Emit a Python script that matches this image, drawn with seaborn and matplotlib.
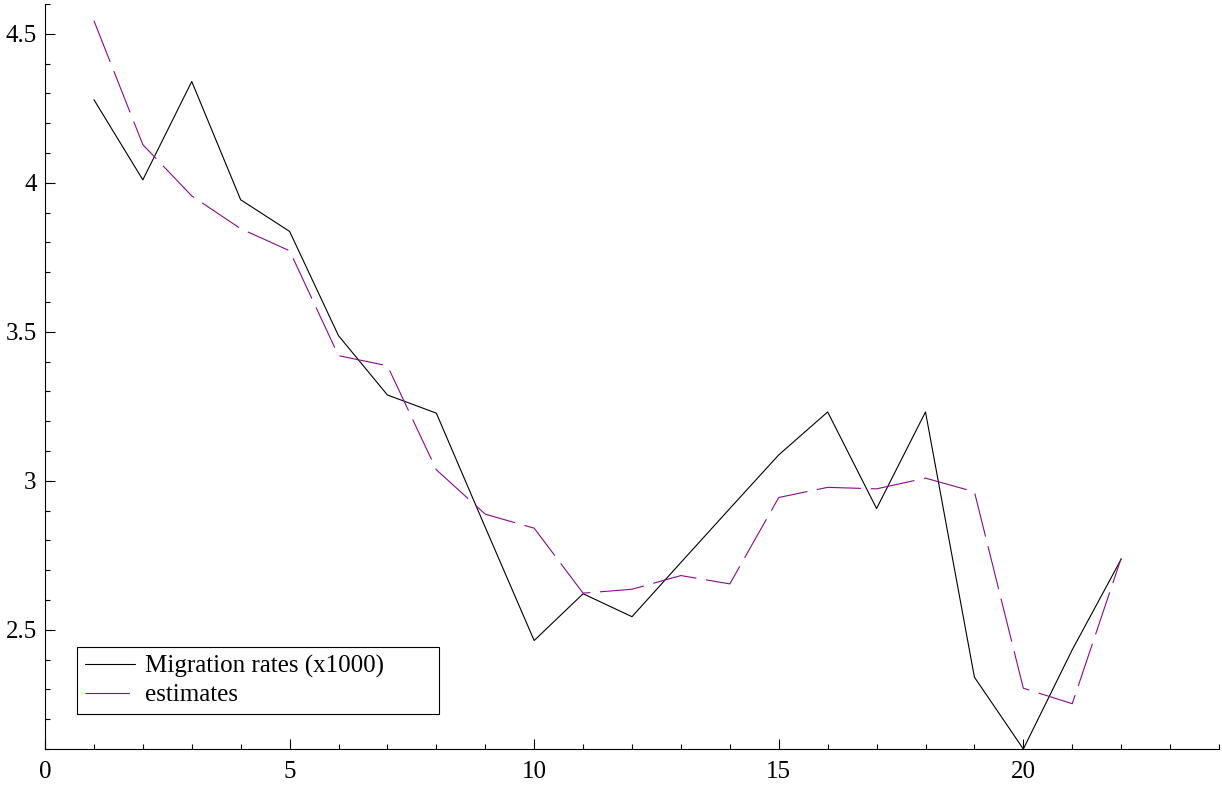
import matplotlib
matplotlib.use("Agg")
import matplotlib.pyplot as plt
import seaborn as sns
import pandas as pd
from matplotlib.ticker import MultipleLocator

# Observation index
period = list(range(1, 23))

# Observed migration rates (per 1000)
migration = [4.279, 4.010, 4.340, 3.943, 3.837, 3.487, 3.288, 3.227, 2.844, 2.464,
             2.621, 2.544, 2.726, 2.907, 3.087, 3.231, 2.907, 3.231, 2.341, 2.100,
             2.433, 2.737]

# Fitted estimates
estimates = [4.544, 4.128, 3.956, 3.846, 3.772, 3.420, 3.386, 3.037, 2.888, 2.841,
             2.623, 2.636, 2.682, 2.654, 2.944, 2.978, 2.973, 3.009, 2.963, 2.304,
             2.252, 2.740]

series_labels = ["Migration rates (x1000)", "estimates"]

sns.set_style("ticks")
plt.rcParams["font.family"] = ["Liberation Serif", "DejaVu Serif"]
plt.rcParams["lines.scale_dashes"] = False
plt.rcParams["text.color"] = "black"
plt.rcParams["xtick.color"] = "black"
plt.rcParams["ytick.color"] = "black"
plt.rcParams["xtick.labelcolor"] = "black"
plt.rcParams["ytick.labelcolor"] = "black"

fig = plt.figure(figsize=(12.22, 7.87), dpi=100)
ax = fig.add_axes([45 / 1222, 38 / 787, 1174 / 1222, 745 / 787])

df = pd.DataFrame({"t": period, "obs": migration, "fit": estimates})

sns.lineplot(data=df, x="t", y="obs", ax=ax, color="black", linewidth=0.8,
             label=series_labels[0], errorbar=None, sort=False)
sns.lineplot(data=df, x="t", y="fit", ax=ax, color="#8b0a8b", linewidth=0.8,
             linestyle=(0, (32, 7)), label=series_labels[1], errorbar=None, sort=False)

ax.set_xlim(0, 24)
ax.set_ylim(2.1, 4.6)
ax.set_xlabel("")
ax.set_ylabel("")

ax.xaxis.set_major_locator(MultipleLocator(5))
ax.xaxis.set_minor_locator(MultipleLocator(1))
ax.yaxis.set_major_locator(MultipleLocator(0.5))
ax.yaxis.set_minor_locator(MultipleLocator(0.1))
ax.yaxis.set_major_formatter(matplotlib.ticker.FuncFormatter(lambda v, p: f"{v:g}"))

ax.tick_params(axis="both", which="major", direction="in", length=7.5, width=0.8,
               labelsize=18, color="black", labelcolor="black")
ax.tick_params(axis="both", which="minor", direction="in", length=3.8, width=0.8,
               color="black")
ax.tick_params(axis="x", which="major", pad=9)
ax.tick_params(axis="y", which="major", pad=6)

for side in ("top", "right"):
    ax.spines[side].set_visible(False)
for side in ("left", "bottom"):
    ax.spines[side].set_color("black")
    ax.spines[side].set_linewidth(0.8)

leg = ax.legend(loc="lower left", bbox_to_anchor=(0.0273, 0.047, 0.3083, 0.1),
                mode="expand", borderaxespad=0, fontsize=18, fancybox=False,
                frameon=True, edgecolor="black", framealpha=1,
                handlelength=2.0, handletextpad=0.4, labelspacing=0.25,
                borderpad=0.3)
leg.get_frame().set_linewidth(0.8)
for txt in leg.get_texts():
    txt.set_color("black")

fig.savefig("out.png", dpi=100)
